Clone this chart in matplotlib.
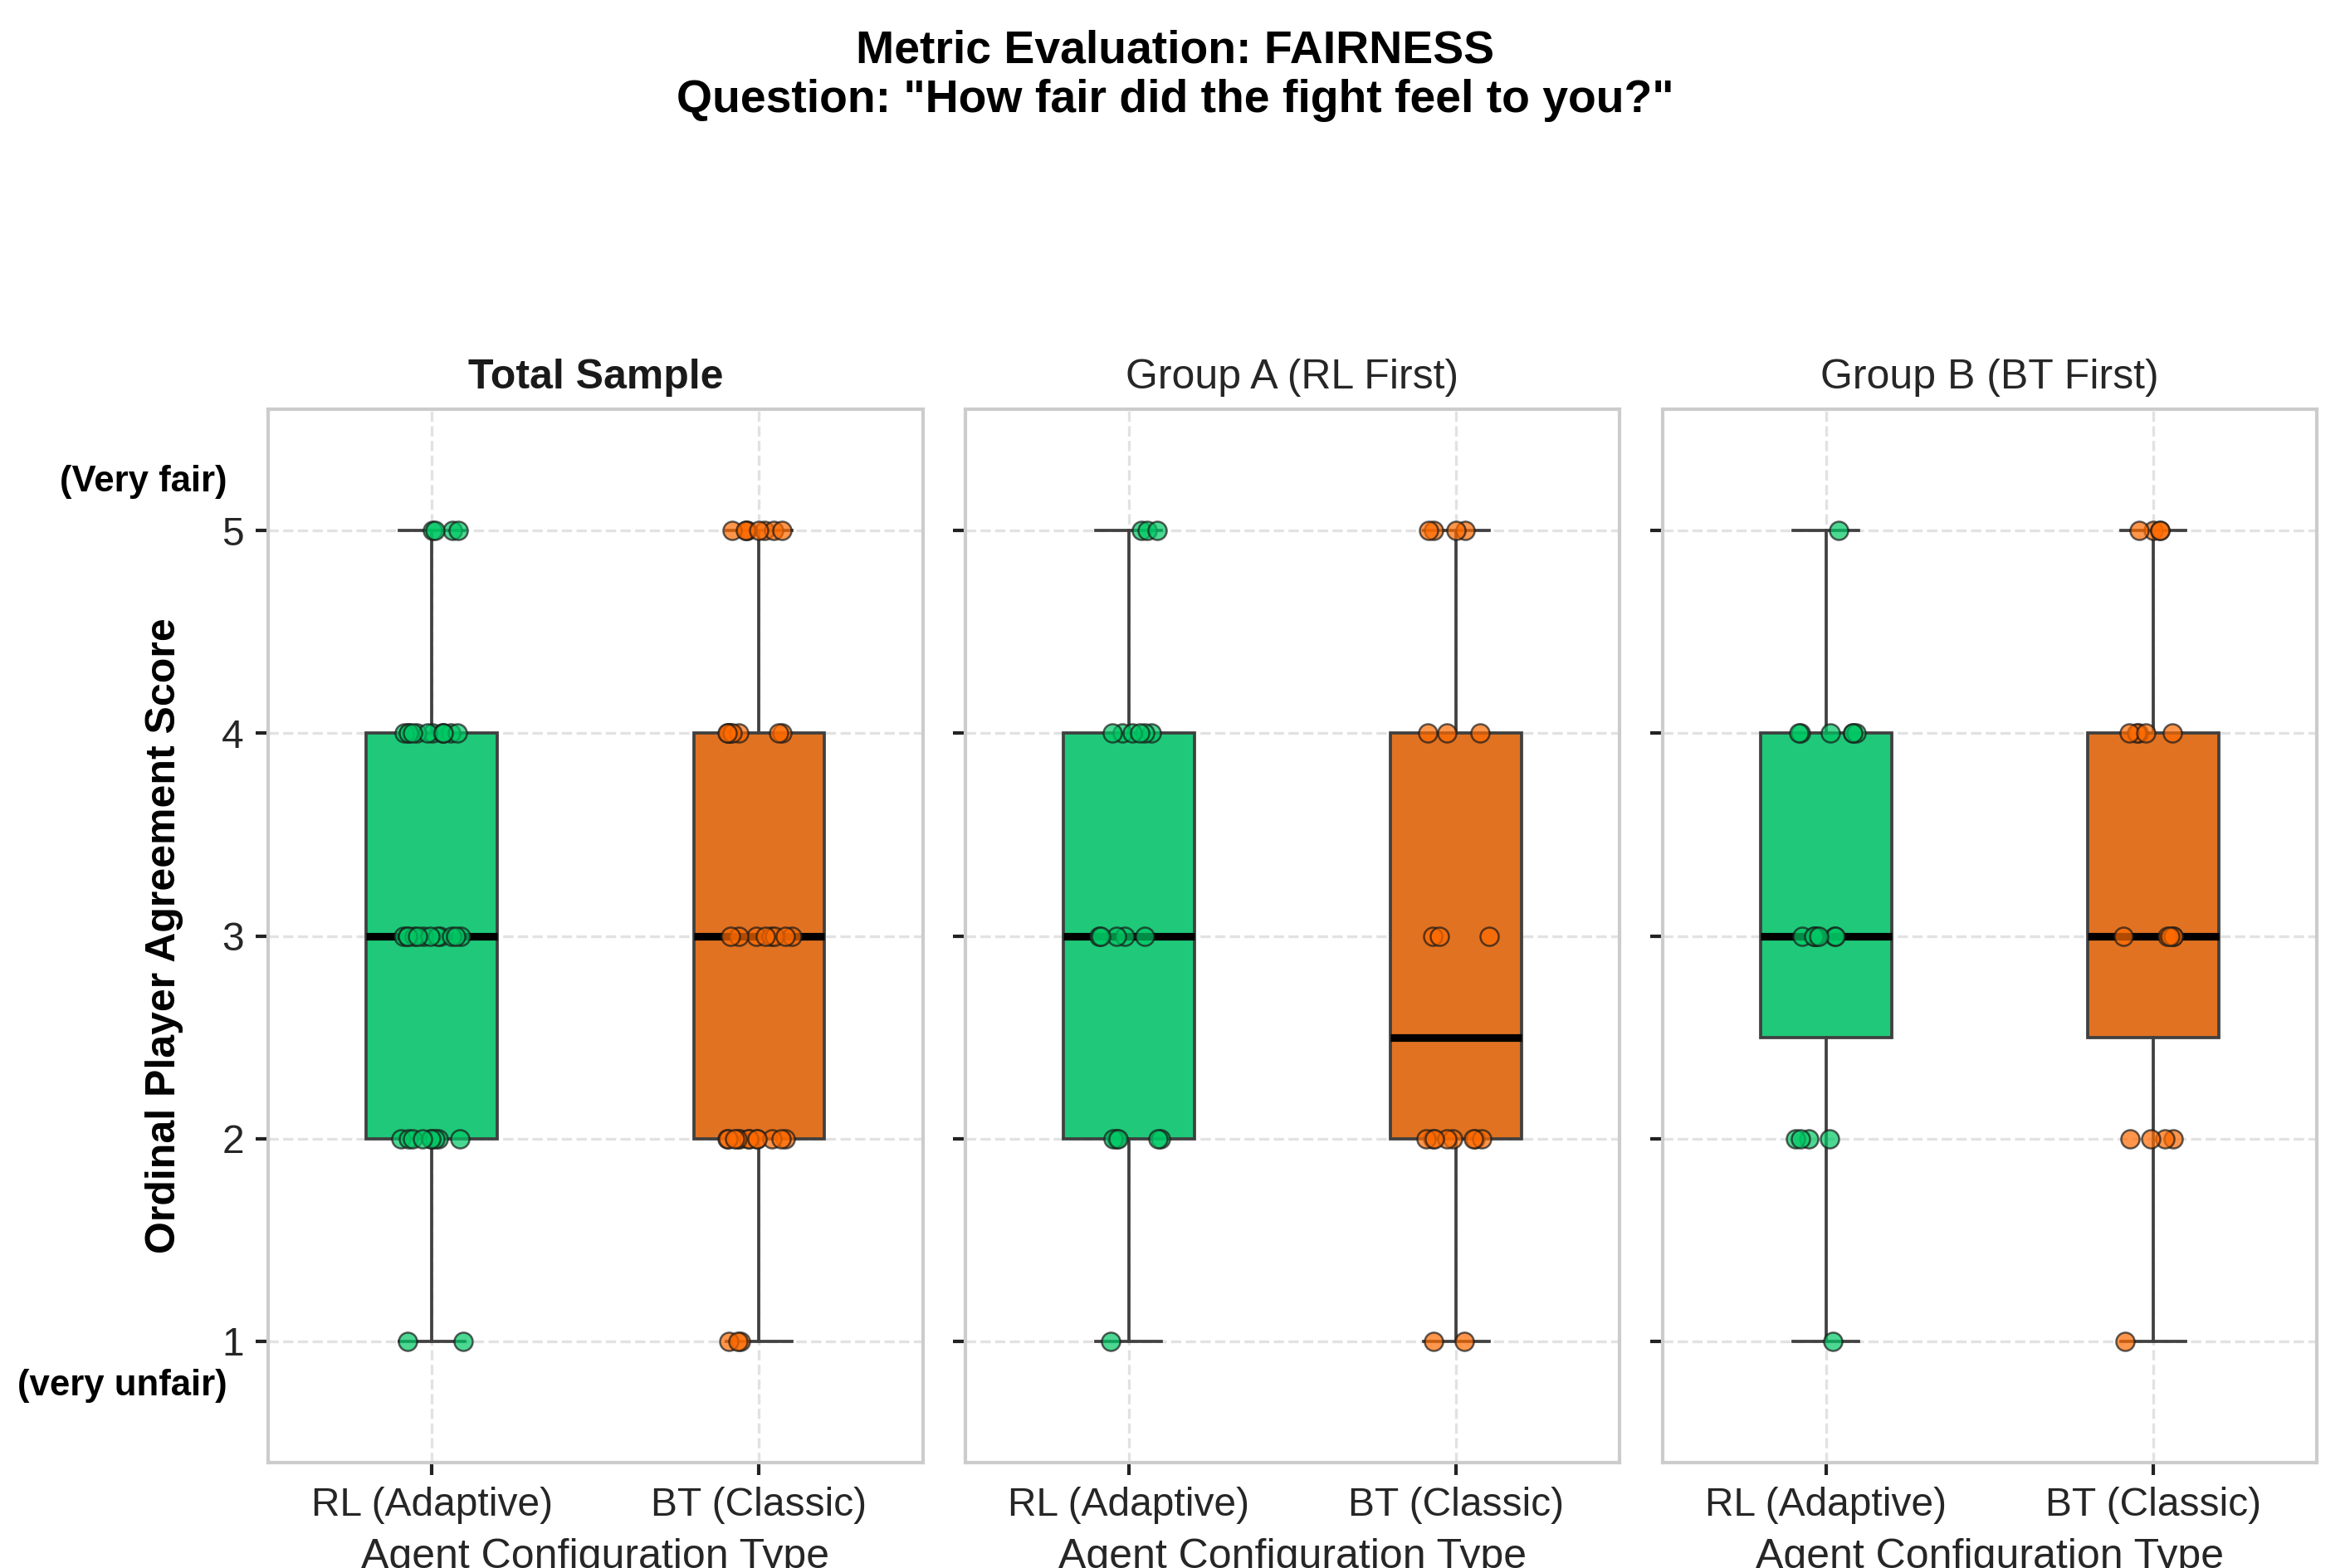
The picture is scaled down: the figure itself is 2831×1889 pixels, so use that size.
import numpy as np
import matplotlib
matplotlib.use("Agg")
import matplotlib.pyplot as plt
from matplotlib.transforms import blended_transform_factory

plt.rcParams['font.family'] = ['Liberation Sans', 'DejaVu Sans']

scores = [1, 2, 3, 4, 5]
agents = ['RL (Adaptive)', 'BT (Classic)']
panel_titles = ['Total Sample', 'Group A (RL First)', 'Group B (BT First)']

# how many players gave each score 1..5
group_a_rl = [1, 5, 5, 6, 3]
group_a_bt = [2, 8, 3, 3, 4]
group_b_rl = [1, 4, 7, 6, 1]
group_b_bt = [1, 4, 5, 5, 4]

box_colors = ['#1fc979', '#e07222']
point_colors = ['#00c864', '#ff6a00']


def ratings(counts):
    return np.repeat(scores, counts)


a_rl, a_bt = ratings(group_a_rl), ratings(group_a_bt)
b_rl, b_bt = ratings(group_b_rl), ratings(group_b_bt)
panels = [
    (np.concatenate([a_rl, b_rl]), np.concatenate([a_bt, b_bt])),
    (a_rl, a_bt),
    (b_rl, b_bt),
]

fig, axes = plt.subplots(1, 3, figsize=(2831 / 300, 1889 / 300), dpi=300, sharey=True)
fig.subplots_adjust(left=0.1141, right=0.9859, bottom=0.0672, top=0.739, wspace=0.065)

rng = np.random.default_rng(11)
line_col = '#404040'

for i, (ax, title, data) in enumerate(zip(axes, panel_titles, panels)):
    bp = ax.boxplot(list(data), positions=[0, 1], widths=0.4, patch_artist=True,
                    showfliers=False,
                    boxprops=dict(edgecolor=line_col, linewidth=0.9),
                    whiskerprops=dict(color=line_col, linewidth=0.9),
                    capprops=dict(color=line_col, linewidth=0.9),
                    medianprops=dict(color='black', linewidth=2.2))
    for patch, c in zip(bp['boxes'], box_colors):
        patch.set_facecolor(c)
        patch.set_zorder(2)

    # jittered raw responses on top of the boxes
    for j, vals in enumerate(data):
        xs = j + rng.uniform(-0.1, 0.1, len(vals))
        ax.scatter(xs, vals, s=28, color=point_colors[j], alpha=0.7,
                   edgecolor='#1a1a1a', linewidth=0.6, zorder=3)

    ax.set_xlim(-0.5, 1.5)
    ax.set_ylim(0.4, 5.6)
    ax.set_xticks([0, 1])
    ax.set_xticklabels(agents)
    ax.set_yticks(scores)
    ax.grid(True, linestyle='--', color='#e2e2e2', linewidth=0.8)
    ax.set_axisbelow(True)
    for sp in ax.spines.values():
        sp.set_color('#cccccc')
        sp.set_linewidth(1.0)
    ax.tick_params(axis='both', length=3.5, width=1.0, color='#222222',
                   labelsize=11.5, labelcolor='#262626')
    ax.set_title(title, fontsize=12, fontweight='bold' if i == 0 else 'normal',
                 color='#1a1a1a' if i == 0 else '#262626')
    ax.set_xlabel('Agent Configuration Type', fontsize=12, color='#262626')

ax0 = axes[0]
ax0.set_ylabel('Ordinal Player Agreement Score', fontsize=12, fontweight='bold')
ax0.yaxis.set_label_coords(-0.13, 0.5)
trans = blended_transform_factory(ax0.transAxes, ax0.transData)
ax0.text(-0.063, 5.24, '(Very fair)', transform=trans, ha='right', va='center',
         fontsize=10.5, fontweight='bold')
ax0.text(-0.063, 0.78, '(very unfair)', transform=trans, ha='right', va='center',
         fontsize=10.5, fontweight='bold')

fig.suptitle('Metric Evaluation: FAIRNESS\nQuestion: "How fair did the fight feel to you?"',
             fontsize=13.3, fontweight='bold', y=0.981, va='top', linespacing=1.18)

fig.savefig('out.png', dpi=300)
